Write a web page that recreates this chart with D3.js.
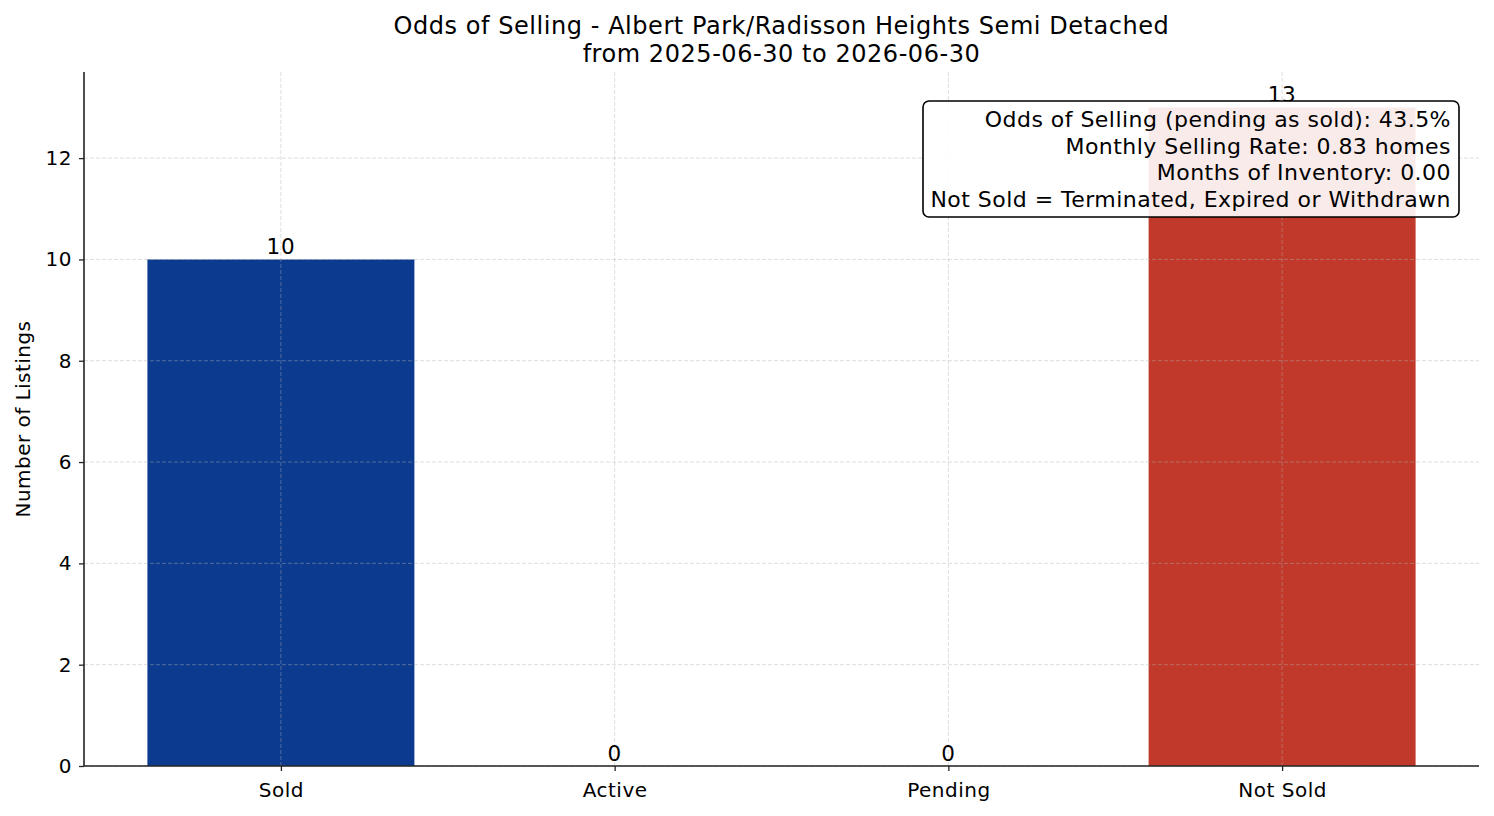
<!DOCTYPE html>
<html><head><meta charset="utf-8">
<script src="https://cdn.jsdelivr.net/npm/d3@7"></script>
<style>body{margin:0;background:#fff;} svg text{font-family:"DejaVu Sans",sans-serif;fill:#000;}</style>
</head><body>
<svg id="c" width="1494" height="816"></svg>
<script>
const categories = ["Sold", "Active", "Pending", "Not Sold"];
const counts = [10, 0, 0, 13];
const barColors = ["#0b3a8e", "#ffffff", "#ffffff", "#c0392b"];
const yTicks = [0, 2, 4, 6, 8, 10, 12];
const yMax = 13.7;
const titleLines = ["Odds of Selling - Albert Park/Radisson Heights Semi Detached", "from 2025-06-30 to 2026-06-30"];
const infoLines = ["Odds of Selling (pending as sold): 43.5%", "Monthly Selling Rate: 0.83 homes", "Months of Inventory: 0.00", "Not Sold = Terminated, Expired or Withdrawn"];
const yLabel = "Number of Listings";

const svg = d3.select("#c");
const L = 84, R = 1479, T = 72, B = 766;
const n = categories.length;
const x = d3.scaleLinear().domain([-0.59, n - 1 + 0.59]).range([L, R]);
const y = d3.scaleLinear().domain([0, yMax]).range([B, T]);
const bw = x(0.4) - x(-0.4);

// bars
svg.append("g").selectAll("rect").data(counts).join("rect")
  .attr("x", (d, i) => x(i) - bw / 2).attr("width", bw)
  .attr("y", d => y(d)).attr("height", d => B - y(d))
  .attr("fill", (d, i) => barColors[i]);

// grid
const grid = svg.append("g").attr("stroke", "#b0b0b0").attr("stroke-opacity", 0.55)
  .attr("stroke-dasharray", "4,2").attr("stroke-width", 0.8);
yTicks.forEach(t => grid.append("line").attr("x1", L).attr("x2", R).attr("y1", y(t)).attr("y2", y(t)));
categories.forEach((c, i) => grid.append("line").attr("x1", x(i)).attr("x2", x(i)).attr("y1", T).attr("y2", B));

// axes
const ax = svg.append("g").attr("transform", `translate(0,${B})`)
  .call(d3.axisBottom(x).tickValues(d3.range(n)).tickFormat(i => categories[i]).tickSize(5).tickPadding(12));
const ay = svg.append("g").attr("transform", `translate(${L},0)`)
  .call(d3.axisLeft(y).tickValues(yTicks).tickSize(5).tickPadding(7));
[ax, ay].forEach(g => {
  g.select(".domain").remove();
  g.selectAll(".tick line").attr("stroke", "#222").attr("stroke-width", 1.3);
  g.selectAll(".tick text").attr("font-size", 20).attr("letter-spacing", 0.5)
    .attr("font-family", "DejaVu Sans").attr("fill", "#000");
});
svg.append("line").attr("x1", L).attr("x2", L).attr("y1", T).attr("y2", B).attr("stroke", "#222").attr("stroke-width", 1.6);
svg.append("line").attr("x1", L).attr("x2", R).attr("y1", B).attr("y2", B).attr("stroke", "#222").attr("stroke-width", 1.6);

// value labels
svg.append("g").selectAll("text").data(counts).join("text")
  .attr("x", (d, i) => x(i)).attr("y", d => y(d) - 5)
  .attr("text-anchor", "middle").attr("font-size", 21.5).attr("letter-spacing", 0.7).text(d => d);

// title
svg.append("g").selectAll("text").data(titleLines).join("text")
  .attr("x", (L + R) / 2).attr("y", (d, i) => 34 + i * 28)
  .attr("text-anchor", "middle").attr("font-size", 24).attr("letter-spacing", 0.55).text(d => d);

// y label
svg.append("text").attr("transform", `translate(30,${(T + B) / 2}) rotate(-90)`)
  .attr("text-anchor", "middle").attr("font-size", 20).attr("letter-spacing", 0.46).text(yLabel);

// info box
svg.append("rect").attr("x", 923).attr("y", 101).attr("width", 536).attr("height", 116)
  .attr("rx", 6).attr("fill", "#fff").attr("fill-opacity", 0.9).attr("stroke", "#000").attr("stroke-width", 1.6);
svg.append("g").selectAll("text").data(infoLines).join("text")
  .attr("x", 1451).attr("y", (d, i) => 127 + i * 26.6)
  .attr("text-anchor", "end").attr("font-size", 22).attr("letter-spacing", 0.47).text(d => d);
</script>
</body></html>
